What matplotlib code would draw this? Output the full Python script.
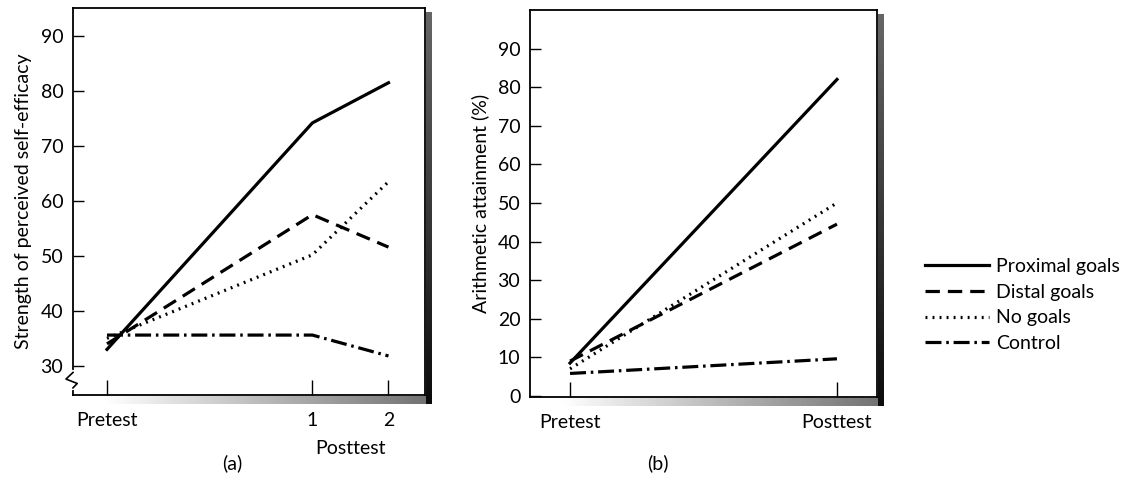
import numpy as np
import matplotlib
matplotlib.use('Agg')
import matplotlib.pyplot as plt
from matplotlib.lines import Line2D

plt.rcParams['font.family'] = ['Lato', 'DejaVu Sans']

# panel (a): self-efficacy, pretest and two posttests
x_a = [0, 2.7, 3.7]
xlabels_a = ['Pretest', '1', '2']
proximal_a = [33.0, 74.2, 81.5]
distal_a = [34.0, 57.5, 51.6]
nogoals_a = [35.0, 50.2, 63.5]
control_a = [35.6, 35.6, 31.8]

# panel (b): arithmetic attainment, pretest and posttest
x_b = [0, 1]
xlabels_b = ['Pretest', 'Posttest']
proximal_b = [8.5, 82.0]
distal_b = [9.0, 44.5]
nogoals_b = [7.0, 50.0]
control_b = [5.8, 9.6]

series = ['Proximal goals', 'Distal goals', 'No goals', 'Control']
styles = [dict(linestyle='-'),
          dict(linestyle=(0, (4.5, 2.5))),
          dict(linestyle=(0, (0.6, 1.6))),
          dict(linestyle=(0, (5, 1.5, 0.8, 1.5)))]
lw = 2.3
fs = 14

fig = plt.figure(figsize=(11.42, 4.93), dpi=100)
W, H = 1142, 493


def px_axes(x0, y0, x1, y1):
    return fig.add_axes([x0 / W, 1 - y1 / H, (x1 - x0) / W, (y1 - y0) / H])


def shadow(x0, y0, x1, y1):
    # dark band on the right, light gradient below
    sr = px_axes(x1 + 1, y0 + 4, x1 + 7, y1 + 9)
    sr.imshow(np.linspace(0.4, 0.05, 50).reshape(-1, 1) * np.ones((1, 5)),
              cmap='gray', vmin=0, vmax=1, aspect='auto')
    sr.axis('off')
    sb = px_axes(x0 + 30, y1 + 1, x1 + 1, y1 + 9)
    sb.imshow(np.ones((5, 1)) * np.linspace(1.0, 0.45, 200).reshape(1, -1),
              cmap='gray', vmin=0, vmax=1, aspect='auto')
    sb.axis('off')


def style_axes(ax):
    for s in ax.spines.values():
        s.set_linewidth(1.3)
        s.set_color('black')
    ax.tick_params(direction='in', length=8, width=1.0, labelsize=fs,
                   pad=7, colors='black')
    ax.tick_params(axis='x', length=11, pad=12)


# ---- panel (a)
shadow(73, 8, 425, 395)
ax1 = px_axes(73, 8, 425, 395)
for vals, st in zip([proximal_a, distal_a, nogoals_a, control_a], styles):
    ax1.plot(x_a, vals, color='black', lw=lw, **st)
ax1.set_xlim(-0.447, 4.18)
ax1.set_ylim(24.7, 95.1)
ax1.set_yticks([30, 40, 50, 60, 70, 80, 90])
ax1.set_xticks(x_a)
ax1.set_xticklabels(xlabels_a)
style_axes(ax1)
ax1.set_ylabel('Strength of perceived self-efficacy', fontsize=fs, labelpad=6)
ax1.text(3.2, -0.137, 'Posttest', transform=ax1.get_xaxis_transform(),
         ha='center', va='center', fontsize=fs)
# axis break zigzag
trans = ax1.get_yaxis_transform()
ax1.plot([0, 0], [26.0, 28.8], transform=trans, color='white', lw=3,
         clip_on=False, zorder=5)
ax1.plot([0, -0.02, 0.012, 0], [28.8, 27.6, 26.8, 26.0], transform=trans,
         color='black', lw=1.2, clip_on=False, zorder=6)

# ---- panel (b)
shadow(530, 10, 877, 397)
ax2 = px_axes(530, 10, 877, 397)
for vals, st in zip([proximal_b, distal_b, nogoals_b, control_b], styles):
    ax2.plot(x_b, vals, color='black', lw=lw, **st)
ax2.set_xlim(-0.15, 1.15)
ax2.set_ylim(-0.3, 100)
ax2.set_yticks(range(0, 100, 10))
ax2.set_xticks(x_b)
ax2.set_xticklabels(xlabels_b)
style_axes(ax2)
ax2.set_ylabel('Arithmetic attainment (%)', fontsize=fs, labelpad=6)

fig.text(232 / W, 1 - 463 / H, '(a)', ha='center', va='center', fontsize=fs)
fig.text(658 / W, 1 - 463 / H, '(b)', ha='center', va='center', fontsize=fs)

handles = [Line2D([], [], color='black', lw=lw, **st) for st in styles]
fig.legend(handles, series, loc='center left',
           bbox_to_anchor=(925 / W, 1 - 305 / H), frameon=False,
           fontsize=fs, handlelength=3.3, handletextpad=0.35,
           labelspacing=0.45, borderpad=0, borderaxespad=0)

plt.savefig('out.png', dpi=100)
